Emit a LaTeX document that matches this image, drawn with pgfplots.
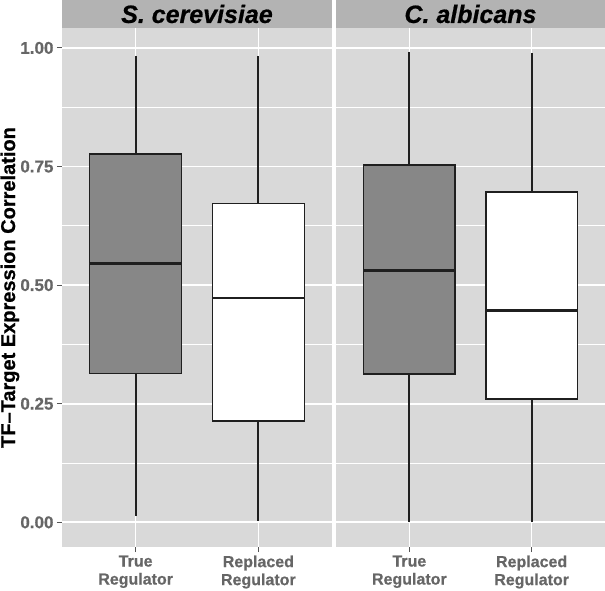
\documentclass[border=0pt]{standalone}
\usepackage{fontspec}
\setmainfont{Liberation Sans}[BoldFeatures={FakeBold=0.7}, BoldItalicFeatures={FakeBold=0.7}]
\usepackage{pgfplots}
\pgfplotsset{compat=1.18}
\usepgfplotslibrary{statistics}
\definecolor{panelbg}{HTML}{D9D9D9}
\definecolor{stripbg}{HTML}{B3B3B3}
\definecolor{boxgrey}{HTML}{878787}
\definecolor{linecol}{HTML}{1F1F1F}
\definecolor{ticklab}{HTML}{666666}
\definecolor{tickcol}{HTML}{555555}
\pgfplotsset{
  panel/.style={
    scale only axis, height=519pt,
    xmin=0.4, xmax=2.6, ymin=-0.052, ymax=1.042,
    axis background/.style={fill=panelbg},
    axis line style={draw=none},
    xtick={1,2}, xticklabels={True\\Regulator, Replaced\\Regulator},
    xticklabel style={align=center, font=\fontsize{16}{18}\selectfont\bfseries, text=ticklab},
    ytick={0,0.25,0.5,0.75,1},
    minor ytick={0.125,0.375,0.625,0.875},
    grid=both,
    major grid style={white, line width=1.7pt},
    minor grid style={white, line width=0.9pt},
    tick align=outside, major tick length=5pt, minor tick length=0pt,
    tick pos=left,
    major tick style={tickcol, line width=1pt},
    minor tick style={draw=none},
    boxplot/draw direction=y,
    boxplot/box extend=0.75,
    boxplot/whisker extend=0,
    boxplot/every median/.style={line width=2.8pt},
    boxplot/every whisker/.style={line width=1.8pt},
    boxplot/every box/.style={line width=1.6pt},
  },
  bx/.style={draw=linecol, line width=1.8pt},
}
\begin{document}
\begin{tikzpicture}
\useasboundingbox (-62pt,-43pt) rectangle (543pt,547pt);
\begin{axis}[panel, width=270pt, at={(0pt,0pt)}, anchor=south west,
  yticklabels={0.00,0.25,0.50,0.75,1.00},
  yticklabel style={font=\fontsize{17}{17}\selectfont\bfseries, text=ticklab},
  ylabel={TF–Target Expression Correlation},
  ylabel style={font=\fontsize{20}{20}\selectfont\bfseries, at={(axis description cs:-0.174,0.5)}, anchor=base}]
\addplot[bx, boxplot prepared={draw position=1, lower whisker=0.013, lower quartile=0.314, median=0.545, upper quartile=0.776, upper whisker=0.982}, fill=boxgrey] coordinates {};
\addplot[bx, boxplot prepared={draw position=2, lower whisker=0.002, lower quartile=0.213, median=0.473, upper quartile=0.672, upper whisker=0.982}, fill=white] coordinates {};
\end{axis}
\begin{axis}[panel, width=269pt, at={(274pt,0pt)}, anchor=south west,
  yticklabels={}, ytick style={draw=none}]
\addplot[bx, boxplot prepared={draw position=1, lower whisker=0.0, lower quartile=0.313, median=0.530, upper quartile=0.753, upper whisker=0.992}, fill=boxgrey] coordinates {};
\addplot[bx, boxplot prepared={draw position=2, lower whisker=0.0, lower quartile=0.260, median=0.447, upper quartile=0.696, upper whisker=0.989}, fill=white] coordinates {};
\end{axis}
\fill[stripbg] (0pt,519pt) rectangle (270pt,547pt);
\fill[stripbg] (274pt,519pt) rectangle (543pt,547pt);
\node[font=\fontsize{25}{25}\selectfont\bfseries\itshape, anchor=center] at (135pt,533pt) {S. cerevisiae};
\node[font=\fontsize{25}{25}\selectfont\bfseries\itshape, anchor=center] at (408.5pt,533pt) {C. albicans};
\end{tikzpicture}
\end{document}
